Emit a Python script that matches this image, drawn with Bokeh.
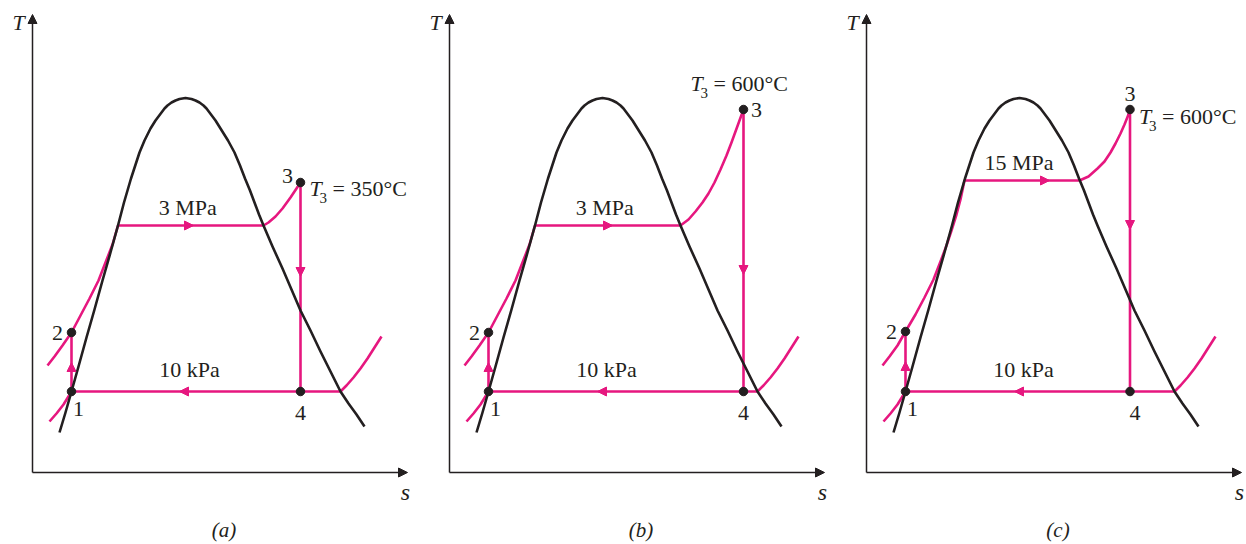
from bokeh.plotting import figure
from bokeh.layouts import row
from bokeh.models import Range1d, Arrow, NormalHead
from bokeh.core.properties import value
from bokeh.embed import file_html
from bokeh.resources import INLINE

# ---------------------------------------------------------------------------
# Schematic T-s data for the ideal Rankine cycle (entropy s, temperature T,
# arbitrary units).
# ---------------------------------------------------------------------------

# Saturation dome of water (liquid branch, critical point, vapour branch)
dome_s = [27, 33, 39, 46, 54, 62, 70, 78, 85.5, 91.5, 98.5, 107, 112, 118, 123,
          129, 132, 135, 139, 143, 147, 153,
          159, 163, 167, 171, 174, 177, 183, 188, 195.5, 202, 207.5, 212.5,
          217.5, 222, 226.5, 231, 240, 250, 259, 268, 278, 288, 298, 308, 316,
          324, 332]
dome_T = [40, 60, 81, 106, 135, 163, 192, 220, 247, 270, 294, 320, 332, 344,
          352, 360, 364, 367, 370, 372, 373.5, 374.5,
          373.5, 372, 370, 367, 364, 360, 352, 344, 332, 320, 307, 294,
          282, 270, 258, 247, 226, 204, 183, 162, 142, 121, 101, 81, 69,
          58, 46]

# Condenser isobar (10 kPa): compressed liquid, two-phase line, superheated vapour
cond_s = [17, 24, 31, 39, 308, 314, 321, 328, 335, 342, 349]
cond_T = [51, 59, 68, 81, 81, 87, 95, 104, 114, 125, 136]

# Boiler isobar, liquid part up to saturated liquid, per diagram
boil_liq_s = [
    [15, 22, 30, 39, 48, 57, 66, 73, 80, 85.5],
    [15, 22, 30, 39, 48, 57, 66, 73, 80, 85.5],
    [16, 23, 31, 39, 49, 58, 67, 74, 80, 85, 90, 94, 98],
]
boil_liq_T = [
    [107, 116, 127, 140, 157, 174, 192, 210, 228, 247],
    [107, 116, 127, 140, 157, 174, 192, 210, 228, 247],
    [107, 116, 127, 141, 158, 175, 193, 211, 227, 242, 258, 273, 292],
]

# Boiler isobar, from saturated vapour to turbine inlet (state 3)
boil_vap_s = [
    [231, 236, 243, 250, 258, 264, 268],
    [231, 239, 246, 253, 259, 265, 271, 277, 282, 286, 290, 294],
    [213, 222, 231, 238, 244, 249, 254, 258, 262, 263.5],
]
boil_vap_T = [
    [247, 250, 256, 264, 275, 284, 290],
    [247, 253, 261, 270, 279, 290, 303, 317, 330, 341, 352, 363],
    [292, 296, 304, 311, 320, 329, 339, 348, 358, 363],
]

# State points
s1, T1 = 39, 81
s2 = [39, 39, 39]
T2 = [140, 140, 141]
s3 = [268, 294, 263.5]
T3 = [290, 363, 363]
T_boil = [247, 247, 292]

# Flow-direction arrow tips on each process
pump_arrow_T = [110, 110, 111]
boiler_arrow_s = [161, 163, 183]
turbine_arrow_T = [196, 198, 243]
cond_arrow_s = [147, 148, 148]

# Texts
panel_names = ["(a)", "(b)", "(c)"]
boiler_p = ["3 MPa", "3 MPa", "15 MPa"]
cond_p = "10 kPa"
T3_values = ["350°C", "600°C", "600°C"]
s_axis_end, T_axis_end = 375, 458

# ---------------------------------------------------------------------------
PINK = "#E6177F"
INK = "#231F20"
FONT = "Liberation Serif"

panel_width = [416, 417, 413]
origin_px = [32, 33, 33]

# text placement (screen pixels) relative to anchor points
t3_offsets = [(9, 6), (-53, -26), (9, 7)]
state3_offsets = [(-13, -7), (13, 0), (0, -16)]
state4_offsets = [(0, 21), (0, 21), (5, 21)]
cond_label_s = 157


def add_text(p, x, y, text, dx=0, dy=0, size="22px", style="normal",
             align="center", baseline="middle"):
    p.text(x=[x], y=[y], text=[text], x_offset=dx, y_offset=dy,
           text_font=value(FONT), text_font_size=size, text_font_style=style,
           text_align=align, text_baseline=baseline, text_color=INK)


def flow_arrow(p, x, y, dx, dy):
    p.add_layout(Arrow(end=NormalHead(size=9, fill_color=PINK, line_color=PINK,
                                      line_width=1),
                       x_start=x - dx, y_start=y - dy, x_end=x, y_end=y,
                       line_alpha=0))


def axis_arrow(p, x_end, y_end):
    p.add_layout(Arrow(end=NormalHead(size=9, fill_color=INK, line_color=INK,
                                      line_width=1),
                       x_start=0, y_start=0, x_end=x_end, y_end=y_end,
                       line_color=INK, line_width=1.5))


def make_panel(i):
    w, ox = panel_width[i], origin_px[i]
    p = figure(width=w, height=544, x_range=Range1d(-ox, w - ox),
               y_range=Range1d(-72, 472), output_backend="svg",
               toolbar_location=None, x_axis_type=None, y_axis_type=None,
               min_border=0, outline_line_color=None)
    p.background_fill_color = "white"
    p.border_fill_color = "white"

    # axes
    axis_arrow(p, 0, T_axis_end)
    axis_arrow(p, s_axis_end, 0)
    add_text(p, 0, T_axis_end, "T", dx=-14, dy=8, size="22px", style="italic")
    add_text(p, s_axis_end, 0, "s", dx=-2, dy=19, size="24px", style="italic")
    add_text(p, s_axis_end / 2, 0, panel_names[i], dx=4, dy=57, size="21px",
             style="italic")

    # cycle processes
    lw = 2.6
    p.line(cond_s, cond_T, line_color=PINK, line_width=lw, line_join="round")
    p.line(boil_liq_s[i] + boil_vap_s[i], boil_liq_T[i] + boil_vap_T[i],
           line_color=PINK, line_width=lw, line_join="round")
    p.line([s1, s2[i]], [T1, T2[i]], line_color=PINK, line_width=lw)
    p.line([s3[i], s3[i]], [T3[i], T1], line_color=PINK, line_width=lw)

    flow_arrow(p, s1, pump_arrow_T[i], 0, 4)
    flow_arrow(p, boiler_arrow_s[i], T_boil[i], 4, 0)
    flow_arrow(p, s3[i], turbine_arrow_T[i], 0, -4)
    flow_arrow(p, cond_arrow_s[i], T1, -4, 0)

    # saturation dome
    p.line(dome_s, dome_T, line_color=INK, line_width=2.6, line_join="round")

    # state points
    p.scatter([s1, s2[i], s3[i], s3[i]], [T1, T2[i], T3[i], T1], size=8.5,
              color=INK)

    # state numbers
    add_text(p, s1, T1, "1", dx=7, dy=17)
    add_text(p, s2[i], T2[i], "2", dx=-14, dy=0)
    d3 = state3_offsets[i]
    add_text(p, s3[i], T3[i], "3", dx=d3[0], dy=d3[1])
    d4 = state4_offsets[i]
    add_text(p, s3[i], T1, "4", dx=d4[0], dy=d4[1])

    # pressure labels
    s_mid = (boil_liq_s[i][-1] + boil_vap_s[i][0]) / 2
    add_text(p, s_mid, T_boil[i], boiler_p[i], dx=-3, dy=-18)
    add_text(p, cond_label_s, T1, cond_p, dy=-22)

    # turbine inlet temperature, T with subscript 3
    tx, ty = t3_offsets[i]
    add_text(p, s3[i], T3[i], "T", dx=tx, dy=ty, style="italic",
             align="left", baseline="alphabetic")
    add_text(p, s3[i], T3[i], "3", dx=tx + 10, dy=ty + 9, size="15px",
             align="left", baseline="alphabetic")
    add_text(p, s3[i], T3[i], "= " + T3_values[i], dx=tx + 23, dy=ty,
             align="left", baseline="alphabetic")
    return p


layout = row(*[make_panel(i) for i in range(3)])
open("out.html", "w").write(file_html(layout, INLINE))
